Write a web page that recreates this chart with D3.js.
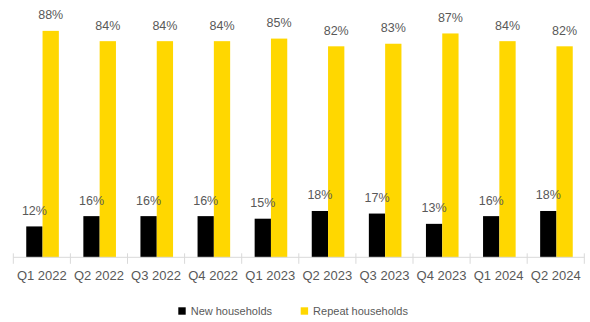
<!DOCTYPE html>
<html>
<head>
<meta charset="utf-8">
<script src="https://cdn.jsdelivr.net/npm/d3@7"></script>
<style>
  html, body { margin: 0; padding: 0; background: #fff; }
  svg { display: block; }
  text { font-family: "Liberation Sans", Arial, sans-serif; fill: #595959; }
</style>
</head>
<body>
<div id="chart"></div>
<script>
// Quarterly share of new vs repeat households
const quarters = ["Q1 2022", "Q2 2022", "Q3 2022", "Q4 2022", "Q1 2023", "Q2 2023", "Q3 2023", "Q4 2023", "Q1 2024", "Q2 2024"];
const newHouseholds = [12, 16, 16, 16, 15, 18, 17, 13, 16, 18];
const repeatHouseholds = [88, 84, 84, 84, 85, 82, 83, 87, 84, 82];
const seriesNames = ["New households", "Repeat households"];
const seriesColors = ["#000000", "#FFD700"];

const width = 590, height = 322;
const svg = d3.select("#chart").append("svg")
  .attr("width", width).attr("height", height);

const x = d3.scaleBand().domain(quarters).range([13.3, 584.3]).padding(0);
const bw = x.bandwidth();
const x1 = d3.scaleBand().domain(seriesNames).range([bw / 2 - 15.6, bw / 2 + 17]).padding(0);
const y = d3.scaleLinear().domain([0, 100]).range([257.3, 0]);

const rows = quarters.map((q, i) => ({ q, vals: [newHouseholds[i], repeatHouseholds[i]] }));

// Bars
const groups = svg.append("g").selectAll("g").data(rows).join("g")
  .attr("transform", d => `translate(${x(d.q)},0)`);

groups.selectAll("rect").data(d => d.vals.map((v, k) => ({ name: seriesNames[k], v, k })))
  .join("rect")
  .attr("x", d => x1(d.name))
  .attr("width", x1.bandwidth())
  .attr("y", d => y(d.v))
  .attr("height", d => y(0) - y(d.v))
  .attr("fill", d => seriesColors[d.k]);

// Value labels
groups.selectAll("text").data(d => d.vals.map((v, k) => ({ name: seriesNames[k], v, k })))
  .join("text")
  .attr("x", d => x1(d.name) + x1.bandwidth() / 2)
  .attr("y", d => y(d.v) - 11.5)
  .attr("text-anchor", "middle")
  .attr("font-size", "12.5px")
  .text(d => d.v + "%");

// Category axis with ticks between quarters
const axisG = svg.append("g");
axisG.append("line")
  .attr("x1", x.range()[0]).attr("x2", x.range()[1])
  .attr("y1", y(0)).attr("y2", y(0))
  .attr("stroke", "#d9d9d9").attr("stroke-width", 1);
const boundaries = quarters.map(q => x(q)).concat([x.range()[1]]);
axisG.selectAll("line.tick").data(boundaries).join("line")
  .attr("class", "tick")
  .attr("x1", d => d).attr("x2", d => d)
  .attr("y1", y(0) - 4).attr("y2", y(0) + 6.5)
  .attr("stroke", "#d9d9d9").attr("stroke-width", 1);
axisG.selectAll("text").data(quarters).join("text")
  .attr("x", d => x(d) + bw / 2)
  .attr("y", 280)
  .attr("text-anchor", "middle")
  .attr("font-size", "13px")
  .text(d => d);

// Legend
const legendX = [178.3, 300.7];
const legend = svg.append("g").selectAll("g").data(seriesNames).join("g")
  .attr("transform", (d, i) => `translate(${legendX[i]},307.3)`);
legend.append("rect")
  .attr("width", 7.4).attr("height", 7.4)
  .attr("fill", (d, i) => seriesColors[i]);
legend.append("text")
  .attr("x", 12.4).attr("y", 7.8)
  .attr("font-size", "11px")
  .text(d => d);
</script>
</body>
</html>
